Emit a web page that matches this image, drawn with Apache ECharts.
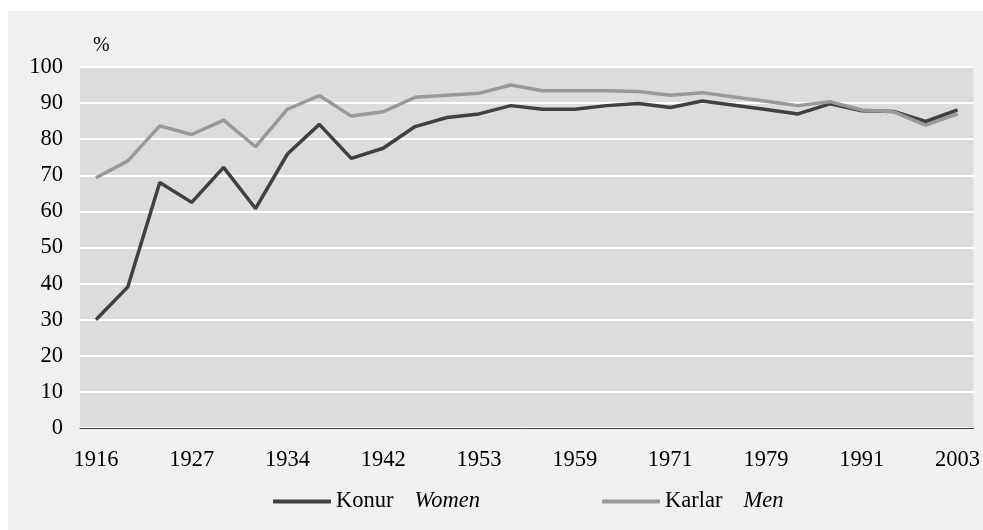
<!DOCTYPE html>
<html>
<head>
<meta charset="utf-8">
<title>Kosningaþátttaka kvenna og karla 1916–2003</title>
<script src="https://cdn.jsdelivr.net/npm/echarts@6/dist/echarts.min.js"></script>
<style>
  html, body { margin: 0; padding: 0; background: #ffffff; }
  #chart { width: 983px; height: 530px; }
</style>
</head>
<body>
<div id="chart"></div>
<script>
// Althing elections (two elections held in 1942 and in 1959)
var elections = ['1916','1919','1923','1927','1931','1933','1934','1937','1942','1942',
                 '1946','1949','1953','1956','1959','1959','1963','1967','1971','1974',
                 '1978','1979','1983','1987','1991','1995','1999','2003'];

// Turnout, %
var women = [30.0, 39.1, 68.0, 62.5, 72.2, 60.8, 75.9, 84.1, 74.7, 77.5,
             83.5, 86.0, 87.0, 89.3, 88.3, 88.3, 89.3, 89.9, 88.8, 90.6,
             89.4, 88.2, 87.0, 89.8, 87.9, 87.7, 84.9, 88.1];
var men   = [69.3, 74.0, 83.7, 81.3, 85.3, 77.9, 88.3, 92.1, 86.4, 87.6,
             91.6, 92.2, 92.7, 95.0, 93.4, 93.4, 93.4, 93.2, 92.2, 92.9,
             91.7, 90.5, 89.3, 90.4, 88.1, 87.6, 83.9, 87.0];

var seriesNames = ['Konur', 'Karlar'];
var seriesNamesEn = ['Women', 'Men'];
var unitLabel = '%';

var FONT = '"Liberation Serif", "Times New Roman", serif';
var DARK = '#404040';
var GREY = '#999999';
var FS = 22.5;

var chart = echarts.init(document.getElementById('chart'), null, { renderer: 'canvas' });

function legendFor(i, left) {
  return {
    left: left,
    top: 490,
    padding: 0,
    data: [seriesNames[i]],
    icon: 'roundRect',
    itemWidth: 58,
    itemHeight: 4,
    selectedMode: false,
    formatter: function (name) { return name + '{en|' + seriesNamesEn[i] + '}'; },
    textStyle: {
      fontFamily: FONT, fontSize: FS, color: '#000',
      rich: { en: { fontFamily: FONT, fontSize: FS, fontStyle: 'italic', color: '#000', padding: [0, 0, 0, 21] } }
    }
  };
}

chart.setOption({
  backgroundColor: '#ffffff',
  animation: false,
  graphic: [
    { type: 'rect', z: -10, shape: { x: 8, y: 11, width: 975, height: 519 }, style: { fill: '#f0f0f0' } },
    { type: 'text', left: 93, top: 36, style: { text: unitLabel, font: '20px ' + FONT, fill: '#000' } }
  ],
  grid: {
    left: 80, right: 6, top: 67, bottom: 102,
    show: true, backgroundColor: '#dcdcdc', borderWidth: 0
  },
  legend: [legendFor(0, 273), legendFor(1, 602)],
  xAxis: {
    type: 'category',
    data: elections,
    boundaryGap: true,
    axisLine: { show: true, lineStyle: { color: DARK, width: 1 } },
    axisTick: { show: false },
    axisLabel: { interval: 2, margin: 21, fontFamily: FONT, fontSize: FS, color: '#000' },
    splitLine: { show: false }
  },
  yAxis: {
    type: 'value',
    min: 0, max: 100, interval: 10,
    axisLine: { show: false },
    axisTick: { show: false },
    axisLabel: { margin: 17, fontFamily: FONT, fontSize: FS, color: '#000' },
    splitLine: { show: true, lineStyle: { color: '#ffffff', width: 2 } }
  },
  series: [
    { name: seriesNames[0], type: 'line', data: women, symbol: 'none', smooth: false,
      lineStyle: { color: DARK, width: 3.5 }, itemStyle: { color: DARK } },
    { name: seriesNames[1], type: 'line', data: men, symbol: 'none', smooth: false,
      lineStyle: { color: GREY, width: 3.5 }, itemStyle: { color: GREY } }
  ]
});
</script>
</body>
</html>
